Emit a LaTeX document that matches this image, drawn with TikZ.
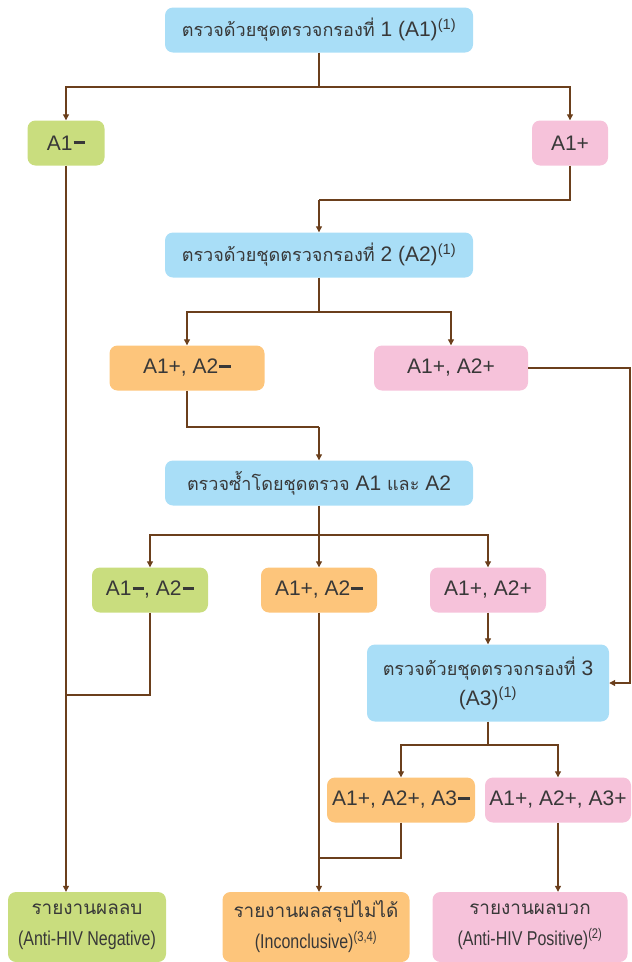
\documentclass[tikz,border=0pt]{standalone}
\usepackage{fontspec}
\setmainfont{Liberation Sans}
\newfontfamily\thai[Script=Thai,Scale=0.86]{Loma}
\newfontfamily\narrowf[FakeStretch=0.8]{Liberation Sans}
\usetikzlibrary{arrows.meta}
\definecolor{cblue}{HTML}{A9DEF7}
\definecolor{cgreen}{HTML}{C9DD7E}
\definecolor{corange}{HTML}{FDC57B}
\definecolor{cpink}{HTML}{F6C2DA}
\definecolor{cline}{HTML}{6B3F1C}
\definecolor{ctext}{HTML}{383838}
\newcommand{\mn}{\hspace{0.05em}\rule[0.29em]{0.55em}{0.13em}}
\newcommand{\sups}[1]{\textsuperscript{(#1)}}
\newcommand{\bigthai}[1]{{\fontsize{22}{31}\selectfont\thai #1}}
\tikzset{
  box/.style={rounded corners=8pt, minimum height=45pt, inner sep=0pt, align=center,
    font=\fontsize{21}{30}\selectfont, text=ctext},
  bluebox/.style={box, fill=cblue},
  greenbox/.style={box, fill=cgreen},
  orangebox/.style={box, fill=corange},
  pinkbox/.style={box, fill=cpink},
  endbox/.style={box, minimum height=70pt, font=\fontsize{20}{31}\selectfont\narrowf},
  conn/.style={draw=cline, line width=1.1pt},
  arr/.style={conn, -{Triangle[width=6pt,length=6pt]}}
}
\begin{document}
\begin{tikzpicture}[x=1pt,y=1pt]
\useasboundingbox (0,0) rectangle (632,-962);
% nodes
\node[bluebox, minimum width=308pt] (t1) at (319,-30) {{\thai ตรวจด้วยชุดตรวจกรองที่} 1 (A1)\sups{1}};
\node[greenbox, minimum width=77pt] (a1n) at (66,-143) {A1\mn};
\node[pinkbox, minimum width=76pt] (a1p) at (570,-143) {A1+};
\node[bluebox, minimum width=308pt] (t2) at (319,-255) {{\thai ตรวจด้วยชุดตรวจกรองที่} 2 (A2)\sups{1}};
\node[orangebox, minimum width=155pt] (pm) at (187,-368) {A1+, A2\mn};
\node[pinkbox, minimum width=154pt] (pp) at (451,-368) {A1+, A2+};
\node[bluebox, minimum width=308pt] (t3) at (319,-483) {{\thai ตรวจซ้ำโดยชุดตรวจ} A1 {\thai และ} A2};
\node[greenbox, minimum width=116pt] (nn2) at (150,-590) {A1\mn, A2\mn};
\node[orangebox, minimum width=116pt] (pm2) at (319,-590) {A1+, A2\mn};
\node[pinkbox, minimum width=116pt] (pp2) at (488,-590) {A1+, A2+};
\node[bluebox, minimum width=242pt, minimum height=77pt] (t4) at (488,-683) {{\thai ตรวจด้วยชุดตรวจกรองที่} 3\\(A3)\sups{1}};
\node[orangebox, minimum width=148pt] (pm3) at (401,-800) {A1+, A2+, A3\mn};
\node[pinkbox, minimum width=146pt] (pp3) at (558,-800) {A1+, A2+, A3+};
\node[endbox, fill=cgreen, minimum width=158pt] (neg) at (87,-927) {\bigthai{รายงานผลลบ}\\(Anti-HIV Negative)};
\node[endbox, fill=corange, minimum width=187pt] (inc) at (316,-927) {\bigthai{รายงานผลสรุปไม่ได้}\\(Inconclusive)\sups{3,4}};
\node[endbox, fill=cpink, minimum width=195pt] (pos) at (530,-927) {\bigthai{รายงานผลบวก}\\(Anti-HIV Positive)\sups{2}};
% junction coordinates
\coordinate (j1) at (319,-87);
\coordinate (j2) at (319,-200);
\coordinate (j3) at (319,-312);
\coordinate (j4) at (319,-427);
\coordinate (j5) at (319,-535);
\coordinate (j6) at (66,-695);
\coordinate (j7) at (488,-745);
\coordinate (j8) at (319,-858);
\coordinate (jr) at (630,-368);
% connectors
\draw[conn] (t1.south) -- (j1);
\draw[arr] (j1) -| (a1n.north);
\draw[arr] (j1) -| (a1p.north);
\draw[conn] (a1p.south) |- (j2);
\draw[arr] (j2) -- (t2.north);
\draw[conn] (t2.south) -- (j3);
\draw[arr] (j3) -| (pm.north);
\draw[arr] (j3) -| (pp.north);
\draw[conn] (pm.south) |- (j4);
\draw[arr] (j4) -- (t3.north);
\draw[arr] (pp.east) -- (jr) |- (t4.east);
\draw[conn] (t3.south) -- (j5);
\draw[arr] (j5) -| (nn2.north);
\draw[arr] (j5) -- (pm2.north);
\draw[arr] (j5) -| (pp2.north);
\draw[conn] (nn2.south) |- (j6);
\draw[arr] (a1n.south) -- (a1n.south |- neg.north);
\draw[arr] (pm2.south) -- (pm2.south |- inc.north);
\draw[arr] (pp2.south) -- (t4.north);
\draw[conn] (t4.south) -- (j7);
\draw[arr] (j7) -| (pm3.north);
\draw[arr] (j7) -| (pp3.north);
\draw[conn] (pm3.south) |- (j8);
\draw[arr] (pp3.south) -- (pp3.south |- pos.north);
\end{tikzpicture}
\end{document}
